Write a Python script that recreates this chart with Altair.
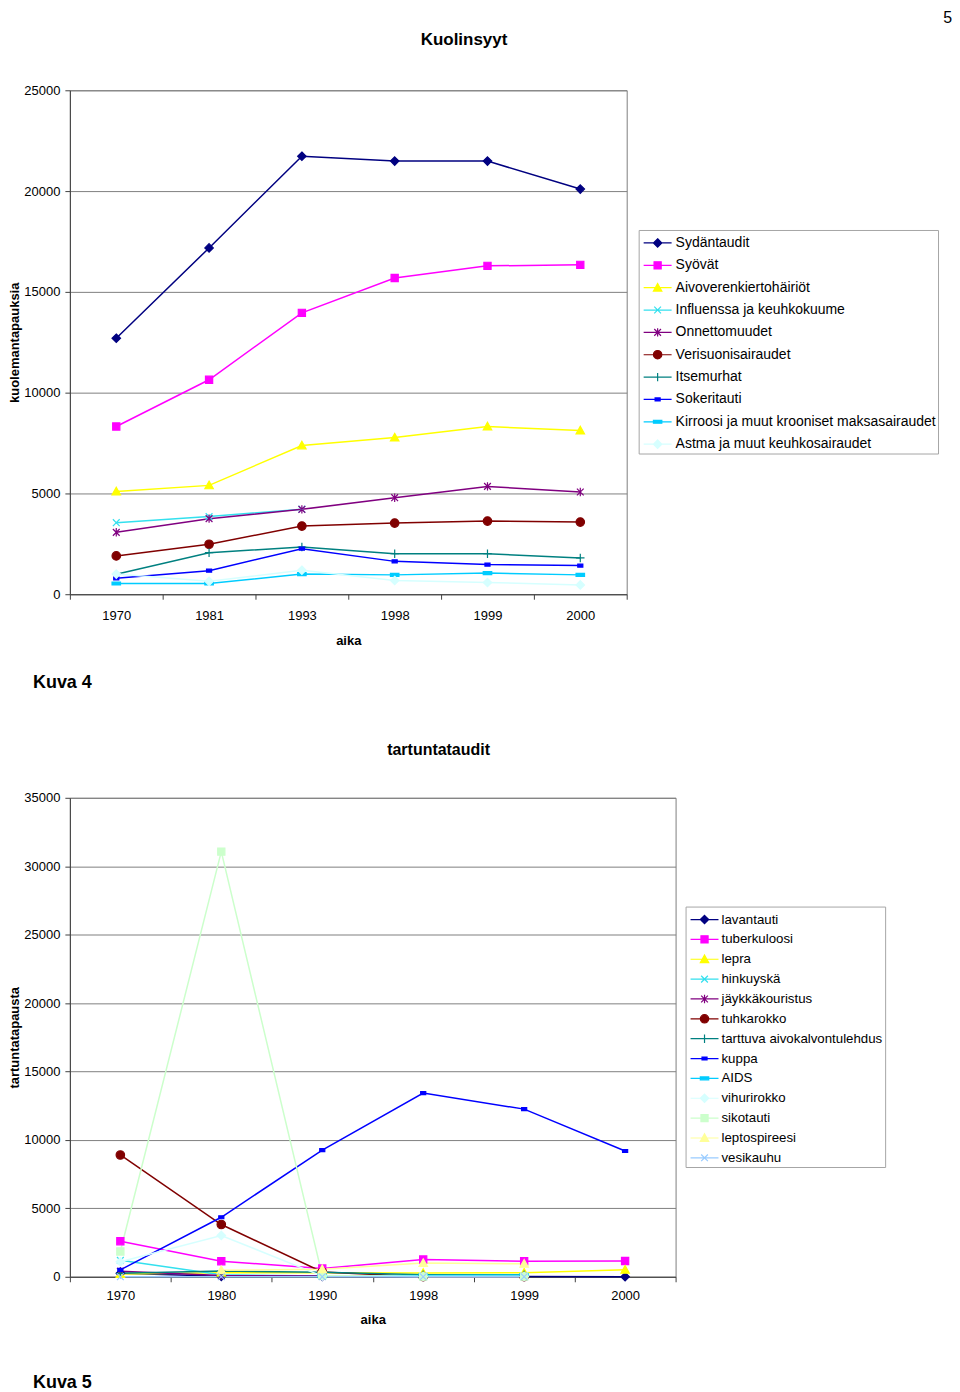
import altair as alt
import pandas as pd

FONT = "Liberation Sans"

# ---------------- data: Kuolinsyyt ----------------
years_top = ["1970", "1981", "1993", "1998", "1999", "2000"]
names_top = [
    "Sydäntaudit", "Syövät", "Aivoverenkiertohäiriöt", "Influenssa ja keuhkokuume",
    "Onnettomuudet", "Verisuonisairaudet", "Itsemurhat", "Sokeritauti",
    "Kirroosi ja muut krooniset maksasairaudet", "Astma ja muut keuhkosairaudet",
]
sydantaudit = [12700, 17180, 21730, 21490, 21490, 20100]
syovat = [8320, 10640, 13960, 15690, 16290, 16340]
aivoverenkierto = [5100, 5400, 7380, 7770, 8320, 8120]
influenssa = [3550, 3850, 4220, None, None, None]
onnettomuudet = [3070, 3750, 4210, 4790, 5350, 5070]
verisuoni = [1900, 2480, 3380, 3530, 3630, 3580]
itsemurhat = [990, 2060, 2340, 2010, 2010, 1800]
sokeritauti = [790, 1170, 2260, 1630, 1470, 1420]
kirroosi = [530, 530, 1000, 960, 1050, 960]
astma = [1000, 640, 1190, 680, 580, 460]
values_top = [sydantaudit, syovat, aivoverenkierto, influenssa, onnettomuudet,
              verisuoni, itsemurhat, sokeritauti, kirroosi, astma]

# ---------------- data: tartuntataudit ----------------
years_bot = ["1970", "1980", "1990", "1998", "1999", "2000"]
names_bot = [
    "lavantauti", "tuberkuloosi", "lepra", "hinkuyskä", "jäykkäkouristus",
    "tuhkarokko", "tarttuva aivokalvontulehdus", "kuppa", "AIDS", "vihurirokko",
    "sikotauti", "leptospireesi", "vesikauhu",
]
lavantauti = [250, 30, 30, 20, 20, 0]
tuberkuloosi = [2600, 1140, 600, 1260, 1140, 1150]
lepra = [200, 300, 300, 270, 290, 510]
hinkuyska = [1200, 150, 50, 50, 50, None]
jaykkakouristus = [400, 100, 50, 20, 20, None]
tuhkarokko = [8900, 3820, 350, 10, 10, None]
aivokalvo = [250, 420, 330, 150, 150, None]
kuppa = [500, 4350, 9260, 13420, 12250, 9190]
aids = [None, None, 50, 100, 130, None]
vihurirokko = [1100, 3020, 50, 20, 20, None]
sikotauti = [1850, 31070, 100, 20, 20, None]
leptospireesi = [None, 480, 550, 1000, 950, None]
vesikauhu = [0, 0, 0, 0, 0, None]
values_bot = [lavantauti, tuberkuloosi, lepra, hinkuyska, jaykkakouristus, tuhkarokko,
              aivokalvo, kuppa, aids, vihurirokko, sikotauti, leptospireesi, vesikauhu]

colors = ["#000080", "#FF00FF", "#FFFF00", "#33E0EE", "#800080", "#800000",
          "#008080", "#0000FF", "#00CCFF", "#D6FFFF", "#CCFFCC", "#FFFF99", "#99CCFF"]

page_number = "5"
chart_titles = ["Kuolinsyyt", "tartuntataudit"]
y_titles = ["kuolemantapauksia", "tartuntatapausta"]
x_title = "aika"
figure_labels = ["Kuva 4", "Kuva 5"]


# ---------------- marker shapes (svg paths, unit square) ----------------
def r(v):
    return f"{round(v, 4)}"


def diamond(s):
    return f"M0,{r(-s)}L{r(s)},0L0,{r(s)}L{r(-s)},0Z"


def square(s):
    a = 0.85 * s
    return f"M{r(-a)},{r(-a)}H{r(a)}V{r(a)}H{r(-a)}Z"


def triangle(s):
    return f"M0,{r(-s)}L{r(s)},{r(0.8 * s)}L{r(-s)},{r(0.8 * s)}Z"


def xmark(s):
    a = 0.8 * s
    return f"M{r(-a)},{r(-a)}L{r(a)},{r(a)}M{r(-a)},{r(a)}L{r(a)},{r(-a)}"


def star(s):
    return xmark(s) + f"M0,{r(-s)}V{r(s)}"


def circle(s):
    return f"M{r(-s)},0A{r(s)},{r(s)},0,1,0,{r(s)},0A{r(s)},{r(s)},0,1,0,{r(-s)},0Z"


def plus(s):
    return f"M0,{r(-s)}V{r(s)}M{r(-s)},0H{r(s)}"


def dash(s):
    return f"M{r(-0.6 * s)},{r(-0.35 * s)}H{r(0.6 * s)}V{r(0.35 * s)}H{r(-0.6 * s)}Z"


def longdash(s):
    return f"M{r(-s)},{r(-0.35 * s)}H{r(s)}V{r(0.35 * s)}H{r(-s)}Z"


marker_funcs = [diamond, square, triangle, xmark, star, circle, plus, dash, longdash,
                diamond, square, triangle, xmark]
PLOT_SIZE = 72          # marker ~8.5px
LEG_SIZE = 400          # legend symbol box 20px, line drawn 28px wide
plot_paths = [f(1.0) for f in marker_funcs]
legend_paths = ["M-1.4,0H1.4" + f(0.42) for f in marker_funcs]


def long_df(names, years, values):
    rows = []
    for n, vals in zip(names, values):
        for y, v in zip(years, vals):
            if v is not None:
                rows.append({"series": n, "year": y, "value": v})
    return pd.DataFrame(rows)


def build(names, years, values, ymax, w, h, ytitle, title, title_size, title_dx, title_offset,
          leg_x, leg_y, leg_row_pad, leg_font, leg_label_offset,
          x_label_pad, x_title_pad, fig_label, fig_label_y):
    k = len(names)
    cols = colors[:k]
    df = long_df(names, years, values)
    xenc = alt.X("year:N", sort=years,
                 scale=alt.Scale(type="band", domain=years, paddingInner=0, paddingOuter=0),
                 bandPosition=0.5,
                 axis=alt.Axis(title=x_title, tickBand="extent", labelAngle=0, grid=False,
                               labelPadding=x_label_pad, titlePadding=x_title_pad))
    yenc = alt.Y("value:Q", scale=alt.Scale(domain=[0, ymax], nice=False),
                 axis=alt.Axis(title=ytitle, values=list(range(0, ymax + 1, 5000)), format="d",
                               grid=True, labelPadding=5, titlePadding=2))
    line = alt.Chart(df).mark_line(strokeWidth=1.5).encode(
        x=xenc, y=yenc,
        color=alt.Color("series:N", scale=alt.Scale(domain=names, range=cols), legend=None),
    )
    pts = alt.Chart(df).mark_point(filled=True, opacity=1, size=PLOT_SIZE, strokeWidth=1.2).encode(
        x=xenc, y=yenc,
        fill=alt.Fill("series:N", scale=alt.Scale(domain=names, range=cols), legend=None),
        stroke=alt.Stroke("series:N", scale=alt.Scale(domain=names, range=cols), legend=None),
        shape=alt.Shape("series:N", scale=alt.Scale(domain=names, range=plot_paths[:k]), legend=None),
    )
    leg = alt.Legend(title=None, orient="none", legendX=leg_x, legendY=leg_y,
                     symbolSize=LEG_SIZE, symbolStrokeWidth=1.2, symbolOffset=6,
                     labelFont=FONT, labelFontSize=leg_font, labelColor="black",
                     labelLimit=500, labelOffset=leg_label_offset,
                     strokeColor="#A6A6A6", fillColor="white", padding=2,
                     rowPadding=leg_row_pad)
    legend_layer = alt.Chart(pd.DataFrame({"lg": names})).mark_point(
        filled=True, opacity=1, size=0, strokeWidth=1).encode(
        fill=alt.Fill("lg:N", scale=alt.Scale(domain=names, range=cols), legend=leg),
        stroke=alt.Stroke("lg:N", scale=alt.Scale(domain=names, range=cols), legend=leg),
        shape=alt.Shape("lg:N", scale=alt.Scale(domain=names, range=legend_paths[:k]), legend=leg),
    )
    label = alt.Chart(pd.DataFrame({"t": [fig_label]})).mark_text(
        align="left", baseline="middle", font=FONT, fontSize=18, fontWeight="bold",
        color="black").encode(text="t:N", x=alt.value(-37), y=alt.value(fig_label_y))
    return alt.layer(line, pts, legend_layer, label).resolve_scale(
        fill="independent", stroke="independent", shape="independent"
    ).properties(
        width=w, height=h,
        title=alt.Title(title, font=FONT, fontSize=title_size, fontWeight="bold", color="black",
                        anchor="middle", frame="group", dx=title_dx, offset=title_offset),
    )


top = build(names_top, years_top, values_top, 25000, 558, 505, y_titles[0], chart_titles[0],
            17, 116, 35, 570, 140, 4.4, 14, 7, 10, 12, figure_labels[0], 594)
bottom = build(names_bot, years_bot, values_bot, 35000, 607, 480, y_titles[1], chart_titles[1],
               16, 66, 34, 617, 109, 1.9, 13.3, 6, 8, 11, figure_labels[1], 586)

chart = alt.vconcat(top, bottom, spacing=48).resolve_scale(
    color="independent", fill="independent", stroke="independent", shape="independent"
).properties(
    title=alt.Title(page_number, font=FONT, fontSize=16, fontWeight="normal", color="black",
                    anchor="end", dx=13, offset=5),
    padding={"left": 0, "top": 0, "right": 0, "bottom": 0},
).configure_view(
    fill="#C0C0C0", stroke="#808080", strokeWidth=1
).configure_axis(
    labelFont=FONT, labelFontSize=13, labelColor="black",
    titleFont=FONT, titleFontSize=13, titleFontWeight="bold", titleColor="black",
    domainColor="#404040", tickColor="#404040", tickSize=5,
    gridColor="#808080", gridWidth=1,
)

chart.save("out.html", embed_options={"renderer": "svg", "actions": False})
